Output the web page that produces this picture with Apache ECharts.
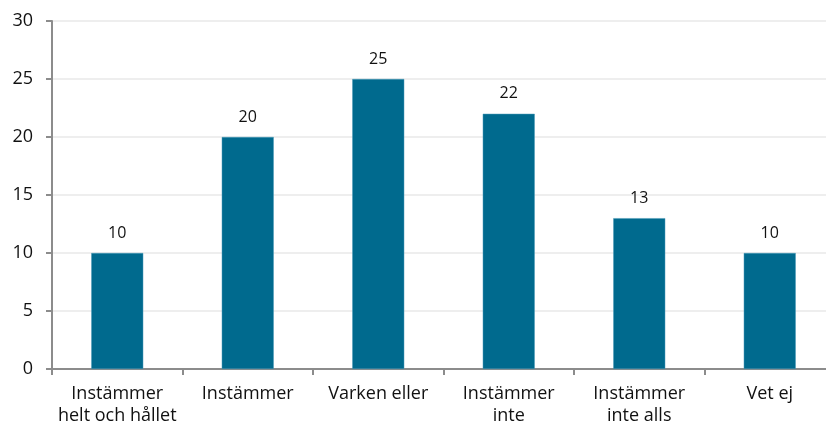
<!DOCTYPE html>
<html>
<head>
<meta charset="utf-8">
<script src="https://cdn.jsdelivr.net/npm/echarts@6/dist/echarts.min.js"></script>
<style>
  html, body { margin: 0; padding: 0; background: #fff; overflow: hidden; }
  #chart { width: 835px; height: 429px; }
</style>
</head>
<body>
<div id="chart"></div>
<script>
const categories = ['Instämmer\nhelt och hållet', 'Instämmer', 'Varken eller', 'Instämmer\ninte', 'Instämmer\ninte alls', 'Vet ej'];
const values = [10, 20, 25, 22, 13, 10];

// plot area runs a bit past the right edge of the window, as in the original
const chart = echarts.init(document.getElementById('chart'));
chart.setOption({
  animation: false,
  grid: { left: 52, right: 0, top: 21, bottom: 60 },
  xAxis: {
    type: 'category',
    data: categories,
    axisLine: { lineStyle: { color: '#8c8c8c', width: 2 } },
    axisTick: { show: true, length: 6, lineStyle: { color: '#8c8c8c', width: 2 } },
    axisLabel: { color: '#111', fontSize: 18, fontFamily: 'Open Sans', lineHeight: 22, margin: 14, interval: 0 }
  },
  yAxis: {
    type: 'value',
    min: 0, max: 30, interval: 5,
    axisLine: { show: true, lineStyle: { color: '#8c8c8c', width: 2 } },
    axisTick: { show: true, length: 6, lineStyle: { color: '#8c8c8c', width: 2 } },
    axisLabel: { color: '#111', fontSize: 18, fontFamily: 'Open Sans', margin: 19 },
    splitLine: { lineStyle: { color: '#eeeeee', width: 2 } }
  },
  series: [{
    type: 'bar',
    data: values,
    barWidth: 52,
    itemStyle: { color: '#006a8e', borderColor: '#4a9ab8', borderWidth: 0.5 },
    label: { show: true, position: 'top', distance: 12, color: '#111', fontSize: 16, fontFamily: 'Open Sans' }
  }]
});
</script>
</body>
</html>
